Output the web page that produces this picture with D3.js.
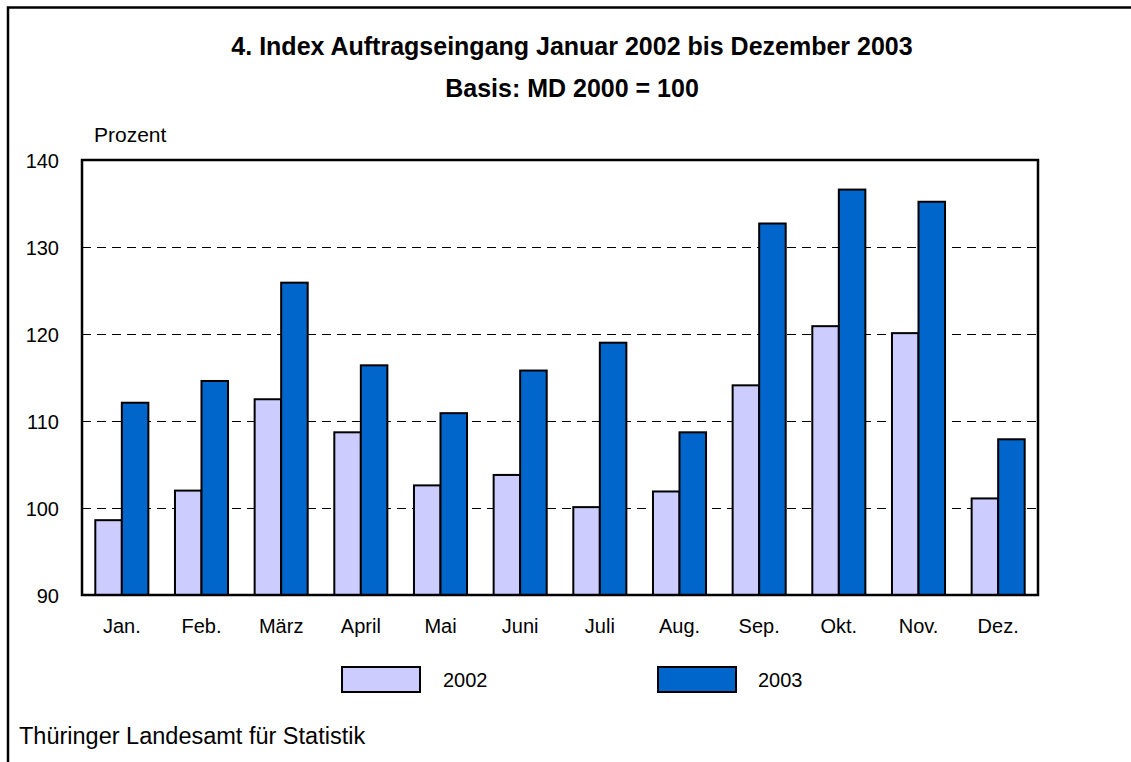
<!DOCTYPE html>
<html>
<head>
<meta charset="utf-8">
<script src="https://cdn.jsdelivr.net/npm/d3@7"></script>
<style>
  body { margin: 0; background: #fff; }
  svg text { font-family: "Liberation Sans", Arial, sans-serif; fill: #000; }
</style>
</head>
<body>
<svg class="chart" width="1131" height="762"></svg>
<script>
// data
var months = ["Jan.", "Feb.", "März", "April", "Mai", "Juni", "Juli", "Aug.", "Sep.", "Okt.", "Nov.", "Dez."];
var years = ["2002", "2003"];
var v2002 = [98.6, 102.0, 112.5, 108.7, 102.6, 103.8, 100.1, 101.9, 114.1, 120.9, 120.1, 101.1];
var v2003 = [112.1, 114.6, 125.9, 116.4, 110.9, 115.8, 119.0, 108.7, 132.7, 136.6, 135.2, 107.9];
var yTicks = [90, 100, 110, 120, 130, 140];
var colors = ["#ccccff", "#0066cc"];

var m = {top: 160, right: 93, bottom: 167, left: 82},
  w = 1131 - m.left - m.right,
  h = 762 - m.top - m.bottom;

var svg = d3.select(".chart");

// outer frame (runs off right and bottom edge)
svg.append("path")
  .attr("d", "M8,770 L8,7.5 L1140,7.5")
  .attr("fill", "none").attr("stroke", "#000").attr("stroke-width", 2.5);

svg.append("text").attr("x", 572).attr("y", 55)
  .attr("text-anchor", "middle").style("font-size", "25px").style("font-weight", "bold")
  .text("4. Index Auftragseingang Januar 2002 bis Dezember 2003");
svg.append("text").attr("x", 572).attr("y", 97)
  .attr("text-anchor", "middle").style("font-size", "25px").style("font-weight", "bold")
  .text("Basis: MD 2000 = 100");

var g = svg.append("g").attr("transform", "translate(" + m.left + "," + m.top + ")");

var x = d3.scaleBand().domain(months).range([0, w]).paddingInner(0.334).paddingOuter(0.167);
var x1 = d3.scaleBand().domain(years).range([0, x.bandwidth()]);
var y = d3.scaleLinear().domain([90, 140]).range([h, 0]);

// dashed grid
g.selectAll(".grid").data(yTicks.slice(1, -1)).enter().append("line")
  .attr("x1", 0).attr("x2", w)
  .attr("y1", function(d) { return Math.round(y(d)) + 0.5; })
  .attr("y2", function(d) { return Math.round(y(d)) + 0.5; })
  .attr("stroke", "#000").attr("stroke-width", 1).attr("stroke-dasharray", "9,6");

// y labels
var yAxis = g.append("g").call(d3.axisLeft(y).tickValues(yTicks).tickSize(0).tickPadding(23));
yAxis.select(".domain").remove();
yAxis.selectAll("text").style("font-size", "20px").attr("dy", "0.35em")
  .style("font-family", "Liberation Sans, Arial, sans-serif");

svg.append("text").attr("x", 94).attr("y", 142).style("font-size", "21px").text("Prozent");

// bars
var groups = g.selectAll(".month").data(months).enter().append("g")
  .attr("transform", function(d) { return "translate(" + x(d) + ",0)"; });
groups.selectAll("rect").data(function(d, i) {
    return [{k: "2002", v: v2002[i]}, {k: "2003", v: v2003[i]}];
  }).enter().append("rect")
  .attr("x", function(d) { return x1(d.k); })
  .attr("y", function(d) { return y(d.v); })
  .attr("width", x1.bandwidth())
  .attr("height", function(d) { return h - y(d.v); })
  .attr("fill", function(d, i) { return colors[i]; })
  .attr("stroke", "#000").attr("stroke-width", 2);

// plot frame
g.append("rect").attr("width", w).attr("height", h)
  .attr("fill", "none").attr("stroke", "#000").attr("stroke-width", 2.5);

// x labels
var xAxis = g.append("g").attr("transform", "translate(0," + h + ")")
  .call(d3.axisBottom(x).tickSize(0).tickPadding(0));
xAxis.select(".domain").remove();
xAxis.selectAll("text").attr("dy", null).attr("y", 38).style("font-size", "20px")
  .style("font-family", "Liberation Sans, Arial, sans-serif");

// legend
var legX = [342, 658], legT = [443, 758];
var leg = svg.append("g").selectAll("g").data(years).enter().append("g");
leg.append("rect")
  .attr("x", function(d, i) { return legX[i]; }).attr("y", 667)
  .attr("width", 78).attr("height", 25)
  .attr("fill", function(d, i) { return colors[i]; })
  .attr("stroke", "#000").attr("stroke-width", 2);
leg.append("text")
  .attr("x", function(d, i) { return legT[i]; }).attr("y", 687)
  .style("font-size", "20px").text(function(d) { return d; });

svg.append("text").attr("x", 19).attr("y", 744).style("font-size", "23.5px")
  .text("Thüringer Landesamt für Statistik");
</script>
</body>
</html>
